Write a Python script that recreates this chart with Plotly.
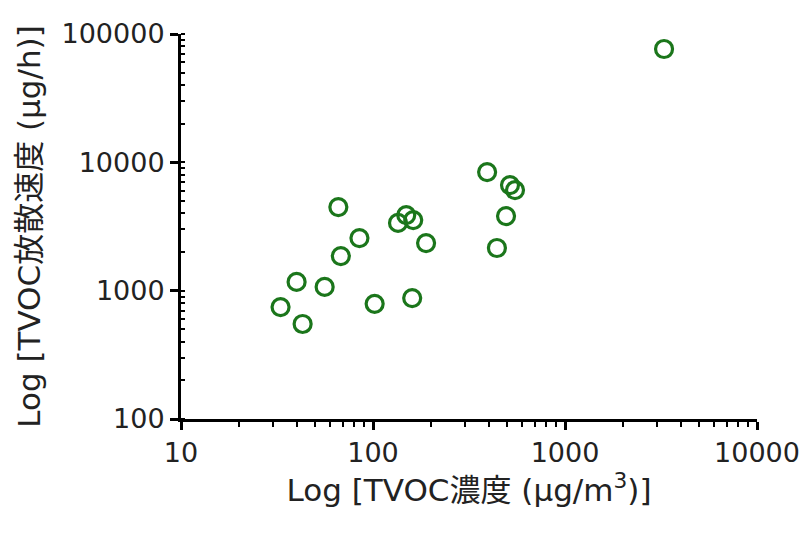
import plotly.graph_objects as go

# TVOC concentration (µg/m3) and TVOC emission rate (µg/h)
tvoc_conc = [3280, 33, 43, 40, 56, 66, 68, 85, 102, 160, 135, 149, 162, 189, 393, 517, 549, 493, 442]
tvoc_emission = [76400, 745, 550, 1170, 1070, 4480, 1860, 2570, 790, 875, 3370, 3880, 3550, 2350, 8400, 6650, 6080, 3810, 2150]

x_tickvals = [10, 100, 1000, 10000]
x_ticktext = ["10", "100", "1000", "10000"]
y_tickvals = [100, 1000, 10000, 100000]
y_ticktext = ["100", "1000", "10000", "100000"]

x_title = "Log [TVOC濃度 (μg/m<sup>3</sup>)]"
y_title = "Log [TVOC放散速度 (μg/h)]"

green = "#1B761B"
title_font = dict(family="DejaVu Sans, Noto Sans CJK JP", size=31, color="#222")

fig = go.Figure()
fig.add_trace(go.Scatter(
    x=tvoc_conc, y=tvoc_emission, mode="markers",
    marker=dict(symbol="circle-open", size=17, color=green,
                line=dict(width=3.2, color=green)),
    showlegend=False,
))

axis_common = dict(
    type="log",
    showgrid=False, zeroline=False,
    showline=True, linecolor="black", linewidth=3,
    ticks="outside", ticklen=8, tickwidth=3, tickcolor="black",
    tickfont=dict(family="DejaVu Sans", size=27, color="#222"),
)

fig.update_layout(
    width=809, height=540,
    margin=dict(l=173, r=60, t=26, b=129, autoexpand=False),
    plot_bgcolor="white", paper_bgcolor="white",
    xaxis=dict(
        **axis_common,
        range=[1, 4],
        tickvals=x_tickvals, ticktext=x_ticktext,
        minor=dict(ticks="outside", ticklen=5, tickwidth=2, tickcolor="black", dtick="D1"),
        title=dict(text=x_title, standoff=10, font=title_font),
        automargin=False,
    ),
    yaxis=dict(
        **axis_common,
        range=[2, 5],
        tickvals=y_tickvals, ticktext=y_ticktext,
        minor=dict(ticks="inside", ticklen=4, tickwidth=2, tickcolor="black", dtick="D1"),
        title=dict(text=y_title, standoff=12, font=title_font),
        automargin=False,
    ),
)

fig.write_html("out.html")
